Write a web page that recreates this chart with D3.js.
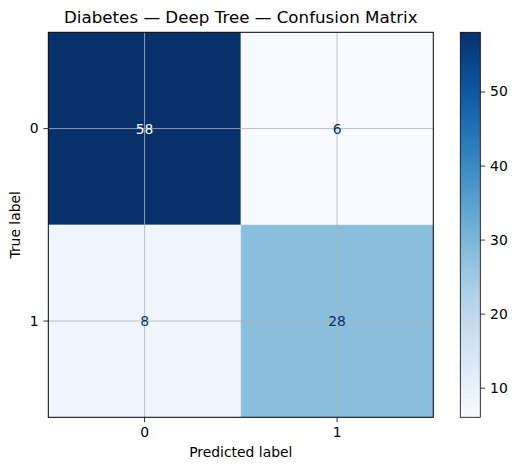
<!DOCTYPE html>
<html>
<head>
<meta charset="utf-8">
<script src="https://cdn.jsdelivr.net/npm/d3@7"></script>
<style>
  body { margin: 0; background: #fff; }
  text { font-family: "DejaVu Sans", sans-serif; }
</style>
</head>
<body>
<div id="chart"></div>
<script>
var classes = ["0", "1"];
var matrix = [
  [58, 6],
  [8, 28]
];
var colorTicks = [10, 20, 30, 40, 50];
var title = "Diabetes \u2014 Deep Tree \u2014 Confusion Matrix";

var W = 516, H = 470;
var plot = { left: 48.3, top: 32.3, size: 385 };
var cbar = { left: 460.3, width: 20 };

var svg = d3.select("#chart").append("svg")
  .attr("width", W).attr("height", H);

var flat = [];
matrix.forEach(function (row, i) {
  row.forEach(function (v, j) {
    flat.push({ row: i, col: j, value: v });
  });
});
var vmin = d3.min(flat, d => d.value), vmax = d3.max(flat, d => d.value);
var color = d3.scaleSequential(d3.interpolateBlues).domain([vmin, vmax]);

var x = d3.scaleBand().domain(classes).range([plot.left, plot.left + plot.size]);
var y = d3.scaleBand().domain(classes).range([plot.top, plot.top + plot.size]);

// cells
svg.append("g").selectAll("rect")
  .data(flat)
  .join("rect")
  .attr("x", d => x(classes[d.col]))
  .attr("y", d => y(classes[d.row]))
  .attr("width", x.bandwidth())
  .attr("height", y.bandwidth())
  .attr("fill", d => color(d.value));

// grid lines at tick centres
var grid = svg.append("g").attr("stroke", "#b0b0b0").attr("stroke-width", 0.8);
classes.forEach(function (c) {
  var cx = x(c) + x.bandwidth() / 2;
  grid.append("line").attr("x1", cx).attr("x2", cx)
    .attr("y1", plot.top).attr("y2", plot.top + plot.size);
  var cy = y(c) + y.bandwidth() / 2;
  grid.append("line").attr("y1", cy).attr("y2", cy)
    .attr("x1", plot.left).attr("x2", plot.left + plot.size);
});

// cell values
var thresh = (vmin + vmax) / 2;
svg.append("g").selectAll("text")
  .data(flat)
  .join("text")
  .attr("x", d => x(classes[d.col]) + x.bandwidth() / 2)
  .attr("y", d => y(classes[d.row]) + y.bandwidth() / 2)
  .attr("text-anchor", "middle")
  .attr("dominant-baseline", "central")
  .attr("font-size", "13.9px")
  .attr("fill", d => d.value > thresh ? "#f7fbff" : "#08306b")
  .text(d => d.value);

// frame
svg.append("rect")
  .attr("x", plot.left).attr("y", plot.top)
  .attr("width", plot.size).attr("height", plot.size)
  .attr("fill", "none").attr("stroke", "#000").attr("stroke-width", 1);

// axes
var xAxis = d3.axisBottom(x).tickSize(4.9).tickPadding(4.9);
var yAxis = d3.axisLeft(y).tickSize(4.9).tickPadding(4.9);

var gx = svg.append("g")
  .attr("transform", `translate(0, ${plot.top + plot.size})`)
  .call(xAxis);
var gy = svg.append("g")
  .attr("transform", `translate(${plot.left}, 0)`)
  .call(yAxis);
[gx, gy].forEach(function (g) {
  g.select(".domain").remove();
  g.selectAll("text").attr("font-size", "13.9px").attr("fill", "#000")
    .attr("font-family", "DejaVu Sans, sans-serif");
  g.selectAll("line").attr("stroke", "#000").attr("stroke-width", 0.8);
});

svg.append("text")
  .attr("x", plot.left + plot.size / 2)
  .attr("y", 457)
  .attr("text-anchor", "middle")
  .attr("font-size", "13.9px")
  .text("Predicted label");

svg.append("text")
  .attr("transform", `translate(20, ${plot.top + plot.size / 2}) rotate(-90)`)
  .attr("text-anchor", "middle")
  .attr("font-size", "13.9px")
  .text("True label");

svg.append("text")
  .attr("x", plot.left + plot.size / 2)
  .attr("y", 23)
  .attr("text-anchor", "middle")
  .attr("font-size", "16.7px")
  .text(title);

// colorbar
var cy = d3.scaleLinear().domain([vmin, vmax])
  .range([plot.top + plot.size, plot.top]);
var defs = svg.append("defs");
var grad = defs.append("linearGradient").attr("id", "cbgrad")
  .attr("x1", 0).attr("y1", 1).attr("x2", 0).attr("y2", 0);
d3.range(0, 1.0001, 0.05).forEach(function (t) {
  grad.append("stop").attr("offset", t)
    .attr("stop-color", d3.interpolateBlues(t));
});
svg.append("rect")
  .attr("x", cbar.left).attr("y", plot.top)
  .attr("width", cbar.width).attr("height", plot.size)
  .attr("fill", "url(#cbgrad)")
  .attr("stroke", "#000").attr("stroke-width", 0.8);

var gc = svg.append("g")
  .attr("transform", `translate(${cbar.left + cbar.width}, 0)`)
  .call(d3.axisRight(cy).tickValues(colorTicks).tickSize(4.9).tickPadding(4.9));
gc.select(".domain").remove();
gc.selectAll("text").attr("font-size", "13.9px").attr("fill", "#000")
  .attr("font-family", "DejaVu Sans, sans-serif");
gc.selectAll("line").attr("stroke", "#000").attr("stroke-width", 0.8);
</script>
</body>
</html>
